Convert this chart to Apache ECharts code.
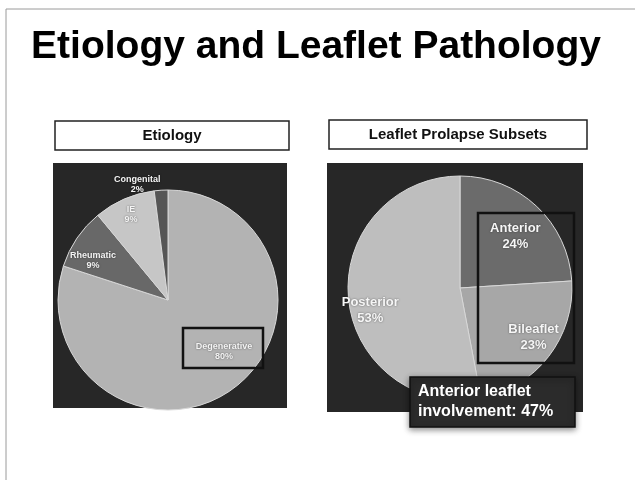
<!DOCTYPE html>
<html>
<head>
<meta charset="utf-8">
<script src="https://cdn.jsdelivr.net/npm/echarts@6/dist/echarts.min.js"></script>
<style>
  html, body { margin: 0; padding: 0; background: #fff; }
  #main { width: 635px; height: 480px; }
</style>
</head>
<body>
<div id="main"></div>
<script>
// etiology (left pie)
var etiologyNames = ['Degenerative', 'Rheumatic', 'IE', 'Congenital'];
var etiologyValues = [80, 9, 9, 2];
// leaflet prolapse subsets (right pie)
var leafletNames = ['Anterior', 'Bileaflet', 'Posterior'];
var leafletValues = [24, 23, 53];

var etiologyColors = ['#b3b3b3', '#686868', '#c6c6c6', '#555555'];
var leafletColors = ['#6b6b6b', '#a7a7a7', '#bebebe'];
// label nudges from the default inside position
var etiologyShift = [[22, 5], [-27, -7], [-14, -32], [-27, -58]];
var leafletShift = [[15, -9], [27, 13], [-31, 17]];

var chart = echarts.init(document.getElementById('main'), null, { renderer: 'canvas' });

function toData(names, values, colors) {
  return names.map(function (n, i) {
    return { name: n, value: values[i], itemStyle: { color: colors[i] } };
  });
}

var option = {
  backgroundColor: '#ffffff',
  animation: false,
  graphic: [
    // slide frame
    { type: 'rect', shape: { x: 6, y: 9, width: 700, height: 600 }, style: { fill: 'none', stroke: '#9a9a9a', lineWidth: 1 } },
    { type: 'text', x: 316, y: 47, style: { text: 'Etiology and Leaflet Pathology', fill: '#000', font: 'bold 39px "Liberation Sans", Arial, sans-serif', textAlign: 'center', textVerticalAlign: 'middle' } },
    // panel titles
    { type: 'rect', shape: { x: 55, y: 121, width: 234, height: 29 }, style: { fill: '#fff', stroke: '#222', lineWidth: 1.5 } },
    { type: 'text', x: 172, y: 136, style: { text: 'Etiology', fill: '#111', font: 'bold 15px "Liberation Sans", Arial, sans-serif', textAlign: 'center', textVerticalAlign: 'middle' } },
    { type: 'rect', shape: { x: 329, y: 120, width: 258, height: 29 }, style: { fill: '#fff', stroke: '#222', lineWidth: 1.5 } },
    { type: 'text', x: 458, y: 135, style: { text: 'Leaflet Prolapse Subsets', fill: '#111', font: 'bold 15px "Liberation Sans", Arial, sans-serif', textAlign: 'center', textVerticalAlign: 'middle' } },
    // dark panels
    { type: 'rect', shape: { x: 53, y: 163, width: 234, height: 245 }, style: { fill: '#272727' } },
    { type: 'rect', shape: { x: 327, y: 163, width: 256, height: 249 }, style: { fill: '#272727' } },
    // highlight boxes
    { type: 'rect', z: 100, shape: { x: 183, y: 328, width: 80, height: 40 }, style: { fill: 'none', stroke: '#111', lineWidth: 2.5 } },
    { type: 'rect', z: 100, shape: { x: 478, y: 213, width: 96, height: 150 }, style: { fill: 'none', stroke: '#111', lineWidth: 2.5 } },
    { type: 'rect', z: 100, shape: { x: 410, y: 377, width: 165, height: 50 }, style: { fill: '#2b2b2b', stroke: '#111', lineWidth: 1.5, shadowBlur: 6, shadowColor: 'rgba(0,0,0,0.45)', shadowOffsetY: 2 } },
    { type: 'text', z: 101, x: 418, y: 382, style: { text: 'Anterior leaflet\ninvolvement: 47%', fill: '#fff', font: 'bold 16px "Liberation Sans", Arial, sans-serif', lineHeight: 20 } }
  ],
  series: [
    {
      type: 'pie',
      center: [168, 300],
      radius: 110,
      startAngle: 90,
      clockwise: true,
      silent: true,
      itemStyle: { borderColor: '#d8d8d8', borderWidth: 1 },
      label: {
        show: true,
        position: 'inside',
        formatter: '{b}\n{c}%',
        color: '#f4f4f4',
        fontFamily: 'Liberation Sans, Arial, sans-serif',
        fontWeight: 'bold',
        fontSize: 9,
        lineHeight: 10,
        textShadowColor: 'rgba(0,0,0,0.5)',
        textShadowBlur: 2
      },
      labelLine: { show: false },
      labelLayout: function (p) {
        var s = etiologyShift[p.dataIndex];
        return { dx: s[0], dy: s[1] };
      },
      data: toData(etiologyNames, etiologyValues, etiologyColors)
    },
    {
      type: 'pie',
      center: [460, 288],
      radius: 112,
      startAngle: 90,
      clockwise: true,
      silent: true,
      itemStyle: { borderColor: '#d8d8d8', borderWidth: 1 },
      label: {
        show: true,
        position: 'inside',
        formatter: '{b}\n{c}%',
        color: '#f6f6f6',
        fontFamily: 'Liberation Sans, Arial, sans-serif',
        fontWeight: 'bold',
        fontSize: 13,
        lineHeight: 16,
        textShadowColor: 'rgba(0,0,0,0.5)',
        textShadowBlur: 2
      },
      labelLine: { show: false },
      labelLayout: function (p) {
        var s = leafletShift[p.dataIndex];
        return { dx: s[0], dy: s[1] };
      },
      data: toData(leafletNames, leafletValues, leafletColors)
    }
  ]
};

chart.setOption(option);
</script>
</body>
</html>
